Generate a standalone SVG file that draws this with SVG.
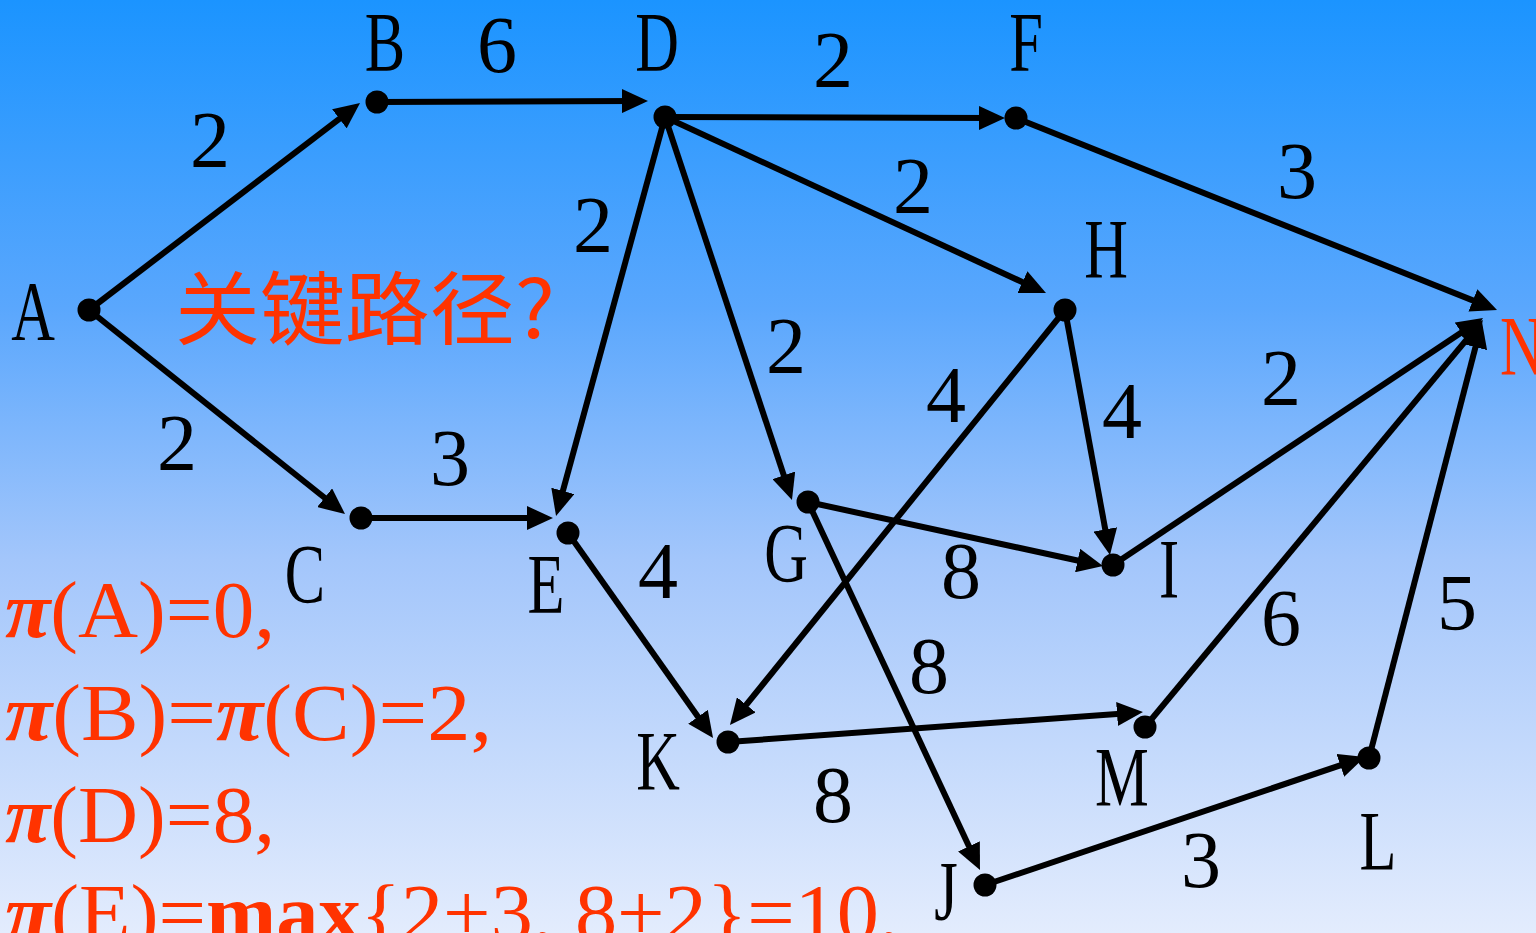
<svg xmlns="http://www.w3.org/2000/svg" width="1536" height="933" viewBox="0 0 1536 933">
<defs>
<linearGradient id="bg" x1="0" y1="0" x2="0" y2="1">
<stop offset="0" stop-color="#1b94ff"/>
<stop offset="0.33" stop-color="#5aa7fd"/>
<stop offset="0.6" stop-color="#a3c6fb"/>
<stop offset="1" stop-color="#e3ecfd"/>
</linearGradient>
<marker id="ah" viewBox="0 0 26 24" refX="14" refY="12" markerWidth="26" markerHeight="24" markerUnits="userSpaceOnUse" orient="auto">
<path d="M0,0 L26,12 L0,24 z" fill="#000"/>
</marker>
<style>
.e{stroke:#000;stroke-width:6;fill:none;marker-end:url(#ah)}
.dot{fill:#000}
.lbl{font-family:"Liberation Serif",serif;font-size:84px;fill:#000;text-anchor:middle}
.num{font-family:"Liberation Serif",serif;font-size:80px;fill:#000;text-anchor:middle}
.red{font-family:"Liberation Serif",serif;font-size:80px;fill:#ff3300}
.cjk{font-family:"Noto Sans CJK SC",sans-serif;font-size:80px;fill:#ff3300}
</style>
</defs>
<rect width="1536" height="933" fill="url(#bg)"/>
<g id="connectors">
<line class="e" x1="89" y1="310" x2="350.5" y2="110.3"/>
<line class="e" x1="377" y1="102" x2="636" y2="101"/>
<line class="e" x1="665" y1="117" x2="993" y2="118"/>
<line class="e" x1="665" y1="117" x2="1035.1" y2="288"/>
<line class="e" x1="665" y1="117" x2="559.2" y2="504.4"/>
<line class="e" x1="665" y1="117" x2="788.2" y2="488.6"/>
<line class="e" x1="1016" y1="118" x2="1485.9" y2="305.6"/>
<line class="e" x1="89" y1="310" x2="335.6" y2="506.5"/>
<line class="e" x1="361" y1="518" x2="541" y2="518"/>
<line class="e" x1="568" y1="533" x2="706.1" y2="728.2"/>
<line class="e" x1="808" y1="502" x2="1091.3" y2="563.5"/>
<line class="e" x1="808" y1="502" x2="974.9" y2="859.1"/>
<line class="e" x1="1065" y1="310" x2="737.5" y2="715.7"/>
<line class="e" x1="1065" y1="310" x2="1107.8" y2="543.2"/>
<line class="e" x1="1113" y1="565" x2="1473" y2="324.7"/>
<line class="e" x1="728" y1="742" x2="1131" y2="712.9"/>
<line class="e" x1="1145" y1="727" x2="1475.3" y2="329.2"/>
<line class="e" x1="1369" y1="758" x2="1479" y2="333.6"/>
<line class="e" x1="985" y1="885" x2="1353.6" y2="760.8"/>
</g>
<g id="edge-labels">
<text class="num" x="497" y="72">6</text>
<text class="num" x="210" y="167">2</text>
<text class="num" x="833" y="87">2</text>
<text class="num" x="1297" y="198">3</text>
<text class="num" x="913" y="213">2</text>
<text class="num" x="593" y="252">2</text>
<text class="num" x="786" y="373">2</text>
<text class="num" x="946" y="422">4</text>
<text class="num" x="1122" y="438">4</text>
<text class="num" x="1281" y="405">2</text>
<text class="num" x="177" y="470">2</text>
<text class="num" x="450" y="485">3</text>
<text class="num" x="658" y="598">4</text>
<text class="num" x="961" y="598">8</text>
<text class="num" x="1281" y="645">6</text>
<text class="num" x="1457" y="630">5</text>
<text class="num" x="929" y="693">8</text>
<text class="num" x="833" y="822">8</text>
<text class="num" x="1201" y="887">3</text>
</g>
<g id="node-A"><circle class="dot" cx="89" cy="310" r="11.5"/><text class="lbl" transform="translate(33,340) scale(0.72,1)">A</text></g>
<g id="node-B"><circle class="dot" cx="377" cy="102" r="11.5"/><text class="lbl" transform="translate(385,71) scale(0.72,1)">B</text></g>
<g id="node-C"><circle class="dot" cx="361" cy="518" r="11.5"/><text class="lbl" transform="translate(305,603) scale(0.72,1)">C</text></g>
<g id="node-D"><circle class="dot" cx="665" cy="117" r="11.5"/><text class="lbl" transform="translate(657,71) scale(0.72,1)">D</text></g>
<g id="node-E"><circle class="dot" cx="568" cy="533" r="11.5"/><text class="lbl" transform="translate(546,613) scale(0.72,1)">E</text></g>
<g id="node-F"><circle class="dot" cx="1016" cy="118" r="11.5"/><text class="lbl" transform="translate(1026,71) scale(0.72,1)">F</text></g>
<g id="node-G"><circle class="dot" cx="808" cy="502" r="11.5"/><text class="lbl" transform="translate(786,582) scale(0.72,1)">G</text></g>
<g id="node-H"><circle class="dot" cx="1065" cy="310" r="11.5"/><text class="lbl" transform="translate(1106,278) scale(0.72,1)">H</text></g>
<g id="node-I"><circle class="dot" cx="1113" cy="565" r="11.5"/><text class="lbl" transform="translate(1169,598) scale(0.72,1)">I</text></g>
<g id="node-J"><circle class="dot" cx="985" cy="885" r="11.5"/><text class="lbl" transform="translate(946,920) scale(0.72,1)">J</text></g>
<g id="node-K"><circle class="dot" cx="728" cy="742" r="11.5"/><text class="lbl" transform="translate(658,790) scale(0.72,1)">K</text></g>
<g id="node-L"><circle class="dot" cx="1369" cy="758" r="11.5"/><text class="lbl" transform="translate(1378,870) scale(0.72,1)">L</text></g>
<g id="node-M"><circle class="dot" cx="1145" cy="727" r="11.5"/><text class="lbl" transform="translate(1122,806) scale(0.72,1)">M</text></g>
<g id="node-N"><text class="lbl" style="fill:#ff3300;text-anchor:start" transform="translate(1500,375) scale(0.72,1)">N</text></g>
<g id="title"><text class="cjk" x="175" y="338" textLength="380" lengthAdjust="spacingAndGlyphs">关键路径?</text></g>
<g id="formulas">
<text class="red" x="5" y="637" textLength="270" lengthAdjust="spacingAndGlyphs"><tspan font-style="italic" font-weight="bold">π</tspan>(A)=0,</text>
<text class="red" x="5" y="740" textLength="487" lengthAdjust="spacingAndGlyphs"><tspan font-style="italic" font-weight="bold">π</tspan>(B)=<tspan font-style="italic" font-weight="bold">π</tspan>(C)=2,</text>
<text class="red" x="5" y="842" textLength="270" lengthAdjust="spacingAndGlyphs"><tspan font-style="italic" font-weight="bold">π</tspan>(D)=8,</text>
<text class="red" x="5" y="940" textLength="895" lengthAdjust="spacingAndGlyphs"><tspan font-style="italic" font-weight="bold">π</tspan>(E)=<tspan font-weight="bold">max</tspan>{2+3, 8+2}=10,</text>
</g>
</svg>
